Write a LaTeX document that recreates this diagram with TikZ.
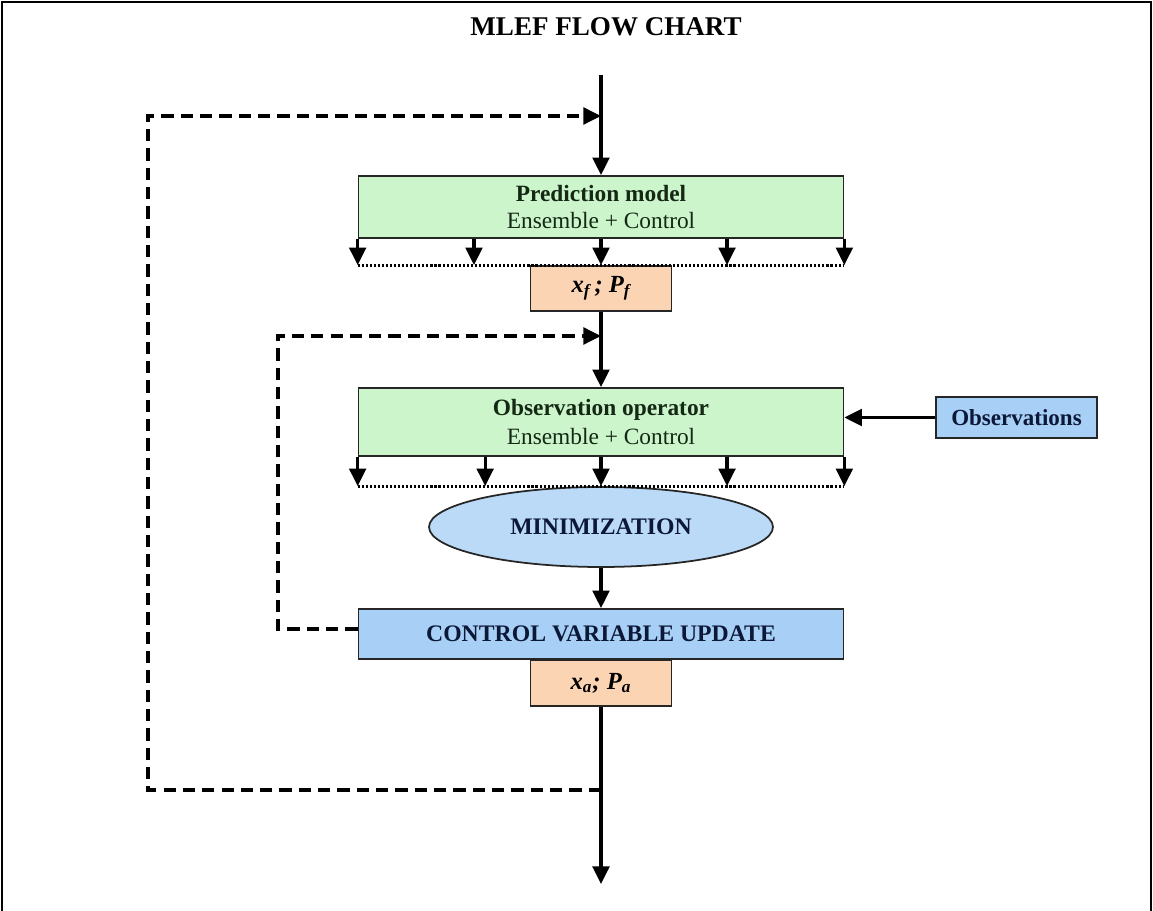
\documentclass[tikz,border=0pt]{standalone}
\usepackage{fontspec}
\setmainfont{Liberation Serif}
\usetikzlibrary{arrows.meta,shapes.geometric,calc}
\definecolor{pgreen}{HTML}{CCF5CC}
\definecolor{porange}{HTML}{FBD4B4}
\definecolor{pblue}{HTML}{A8CFF5}
\definecolor{pell}{HTML}{BBDAF7}
\definecolor{gtext}{HTML}{142814}
\definecolor{btext}{HTML}{0C1838}
\begin{document}
\begin{tikzpicture}[x=0.02cm,y=-0.02cm,
  box/.style={draw=black!85, line width=1pt, inner sep=0pt, align=center, font=\fontsize{13.3}{15}\selectfont},
  wide/.style={box, minimum width=9.7cm},
  small/.style={box, fill=porange, minimum width=2.82cm, font=\fontsize{14}{16}\selectfont\bfseries\itshape},
  tip/.style={-{Triangle[width=9.5pt,length=10pt]}},
  arr/.style={line width=1.8pt, tip},
  fbline/.style={line width=1.8pt, dash pattern=on 7pt off 4pt},
  dotline/.style={line width=1.8pt, dash pattern=on 1.2pt off 1.1pt}
]
\useasboundingbox (0,0) rectangle (1153,911);
\draw[line width=1.1pt] (2,911) -- (2,2) -- (1151,2) -- (1151,911);

\node[font=\fontsize{15.4}{17}\selectfont\bfseries] (title) at (606,27) {MLEF FLOW CHART};

\node[wide, fill=pgreen, minimum height=1.24cm, text=gtext] (pred) at (601,207)
  {\textbf{Prediction model}\\[0pt]Ensemble + Control};
\node[small, minimum height=0.9cm] (xf) at (601,288.5) {x\textsubscript{f}\,; P\textsubscript{f}};
\node[wide, fill=pgreen, minimum height=1.36cm, text=gtext] (obs) at (601,422)
  {\textbf{Observation operator}\\[2pt]Ensemble + Control};
\node[box, fill=pblue, minimum width=3.22cm, minimum height=0.82cm, text=btext, font=\fontsize{13.1}{15}\selectfont\bfseries] (observ) at (1016.5,417.5) {Observations};
\node[ellipse, draw=black!85, line width=1pt, fill=pell, minimum width=6.88cm, minimum height=1.6cm, inner sep=0pt, text=btext, font=\fontsize{13.5}{15}\selectfont\bfseries] (min) at (601,527) {MINIMIZATION};
\node[wide, fill=pblue, minimum height=1.0cm, text=btext, font=\fontsize{13.5}{15}\selectfont\bfseries] (cvu) at (601,634) {CONTROL VARIABLE UPDATE};
\node[small, minimum height=0.92cm] (xa) at (601,683) {x\textsubscript{a}; P\textsubscript{a}};

% main flow
\coordinate (top) at (601,75);
\coordinate (j1) at (601,116);
\coordinate (j2) at (601,336);
\coordinate (fbA) at (601,790);
\coordinate (bot) at (601,884);
\coordinate (c1) at (148,790);
\coordinate (c2) at (148,116);
\coordinate (c3) at (278,629);
\coordinate (c4) at (278,336);

\draw[arr] (top) -- (pred.north);
\draw[arr] (xf.south) -- (obs.north);
\draw[arr] (min.south) -- (cvu.north);
\draw[arr] (xa.south) -- (bot);
\draw[arr] (observ.west) -- (obs.east |- observ.west);

% fan-out arrows
\foreach \f in {0,0.239,0.5,0.759,1} {
  \path ($(pred.south west)!\f!(pred.south east)$) coordinate (pa);
  \draw[arr] (pa) -- (pa |- xf.north);
}
\draw[dotline] (pred.south west |- xf.north) -- (pred.south east |- xf.north);
\foreach \f in {0,0.262,0.5,0.759,1} {
  \path ($(obs.south west)!\f!(obs.south east)$) coordinate (pb);
  \draw[arr] (pb) -- (pb |- min.north);
}
\draw[dotline] (obs.south west |- min.north) -- (obs.south east |- min.north);

% feedback loops
\draw[fbline, tip] (fbA) -- (c1) -- (c2) -- (j1);
\draw[fbline, tip] (cvu.west |- c3) -- (c3) -- (c4) -- (j2);
\end{tikzpicture}
\end{document}
